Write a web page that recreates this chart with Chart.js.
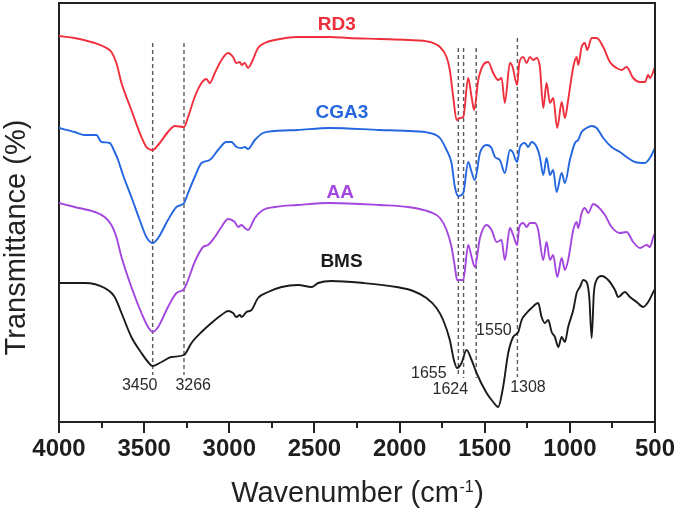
<!DOCTYPE html>
<html><head><meta charset="utf-8">
<script src="https://cdn.jsdelivr.net/npm/chart.js@4.4.0/dist/chart.umd.min.js"></script>
<style>html,body{margin:0;padding:0;background:#fff}#wrap{width:678px;height:511px}</style>
</head><body><div id="wrap"><canvas id="c" width="678" height="511"></canvas></div>
<script>
// ---- data (wavenumber in cm-1, transmittance in arbitrary offset units) ----
const xTicks = [4000,3500,3000,2500,2000,1500,1000,500];

const rd3Wn = [4000,3908,3790,3732,3692,3663,3633,3575,3516,3487,3450,3418,3360,3320,3266,3242,3203,3163,3134,3115,3085,3046,3007,2978,2958,2938,2928,2909,2890,2870,2831,2792,2733,2600,2410,2300,2116,1950,1822,1763,1724,1705,1685,1665,1646,1626,1597,1577,1562,1538,1509,1480,1450,1421,1401,1382,1352,1336,1310,1297,1274,1254,1235,1215,1195,1176,1156,1137,1117,1098,1074,1048,1029,1010,980,960,951,931,912,898,872,843,804,765,725,696,667,628,588,559,540,530,500];
const rd3T  = [386,384,379,375,370,359,339,312,285,275,272,277,290,296,295,305,325,339,343,339,349,362,369,365,359,360,357,359,354,359,374,379,382,385,385,384,383,382,380,375,365,352,325,302,304,305,344,325,312,342,357,360,349,342,344,319,359,355,337,359,365,359,365,362,364,355,314,339,319,324,294,320,304,322,355,365,357,375,379,372,384,384,375,360,354,352,355,344,340,340,347,344,355];

const cgaWn = [4000,3908,3849,3780,3751,3702,3673,3653,3624,3575,3526,3487,3450,3418,3360,3310,3266,3242,3203,3163,3115,3066,3017,2987,2958,2928,2909,2890,2850,2802,2733,2600,2410,2116,1950,1822,1763,1724,1695,1675,1656,1626,1597,1577,1558,1528,1489,1460,1440,1411,1382,1352,1336,1310,1293,1264,1245,1225,1195,1176,1156,1137,1117,1098,1078,1048,1029,1000,970,951,931,902,872,843,804,755,706,667,618,559,530,500];
const cgaT  = [294,290,287,287,280,279,270,262,247,225,202,185,179,184,202,215,219,229,245,259,262,272,280,280,275,274,275,273,282,289,291,292,294,292,291,289,284,272,259,235,226,229,260,250,242,269,277,274,265,262,249,272,270,260,275,279,275,280,275,265,247,264,247,252,230,249,239,262,279,282,290,294,296,294,284,275,270,265,260,259,264,274];

const aaWn = [4000,3908,3790,3732,3692,3663,3633,3575,3516,3477,3450,3418,3360,3310,3266,3242,3203,3154,3125,3085,3046,3007,2968,2948,2928,2909,2890,2850,2802,2733,2600,2410,2116,1950,1822,1763,1724,1695,1675,1662,1626,1597,1577,1558,1528,1489,1460,1430,1401,1382,1352,1333,1310,1297,1274,1254,1235,1205,1186,1156,1137,1117,1098,1074,1048,1029,1010,980,960,951,931,912,892,863,833,794,755,706,667,628,588,549,530,510,500];
const aaT  = [219,215,210,205,197,185,165,135,109,95,90,95,115,129,133,142,160,175,177,185,195,203,200,195,197,194,192,204,212,215,217,219,217,215,210,204,192,175,155,142,142,177,165,155,184,197,192,180,182,162,194,187,177,195,199,195,199,199,192,162,180,162,167,145,164,152,162,192,200,194,209,214,209,218,215,207,195,189,190,180,174,177,175,185,189];

const bmsWn = [4000,3849,3732,3673,3633,3575,3516,3477,3450,3398,3340,3266,3222,3163,3105,3046,3007,2978,2958,2938,2928,2899,2870,2831,2772,2693,2596,2517,2478,2400,2214,2018,1920,1842,1783,1744,1705,1681,1662,1636,1607,1577,1548,1489,1450,1421,1392,1362,1333,1303,1283,1254,1225,1186,1166,1147,1127,1107,1088,1068,1048,1029,1010,980,960,941,921,902,886,872,859,843,813,775,735,716,677,647,608,569,540,510,500];
const bmsT  = [139,139,134,125,109,85,69,60,56,60,65,67,79,90,99,107,111,109,105,107,105,110,112,124,130,135,137,135,139,141,139,135,131,124,114,102,82,62,54,59,72,62,49,29,20,15,35,69,85,90,102,109,114,119,105,99,102,90,85,75,85,80,95,112,129,135,142,140,125,84,129,142,146,142,132,125,130,125,120,115,120,130,133];

const markerWn     = [3450,3266,1655,1624,1550,1308];
const markerTop    = [379,379,374,374,374,384];
const markerBottom = [47,47,45,44,44,45];
const markerText   = ['3450','3266','1655','1624','1550','1308'];
const markerTextWn = [3526,3212,1828,1702,1446,1246];
const markerTextT  = [36,36,48,32,91,34];

const seriesNames = ['RD3','CGA3','AA','BMS'];
const seriesLabelWn = [2369,2339,2348,2341];
const seriesLabelT  = [397,309,229.5,160.5];

// ---- build ----
const FONT = "'Liberation Sans', Arial, Helvetica, sans-serif";
const COLORS = ['#ef2f3c','#2466e0','#a346df','#1b1b1b'];
const toPts = (wn, t) => wn.map((w, i) => ({x: w, y: t[i]}));

const curveSets = [
  toPts(rd3Wn, rd3T), toPts(cgaWn, cgaT), toPts(aaWn, aaT), toPts(bmsWn, bmsT)
].map((d, i) => ({
  label: seriesNames[i], data: d, borderColor: COLORS[i], borderWidth: 1.9,
  pointRadius: 0, fill: false, cubicInterpolationMode: 'monotone'
}));
const markerSets = markerWn.map((w, i) => ({
  label: 'm' + w, data: [{x: w, y: markerTop[i]}, {x: w, y: markerBottom[i]}],
  borderColor: '#5a5a5a', borderWidth: 1.4, borderDash: [4, 3], pointRadius: 0, fill: false
}));

const decor = {
  id: 'decor',
  afterDraw(chart) {
    const {ctx, chartArea: ca, scales: {x, y}} = chart;
    ctx.save();
    // top and right frame
    ctx.strokeStyle = '#222'; ctx.lineWidth = 2;
    ctx.beginPath();
    ctx.moveTo(ca.left - 1, ca.top); ctx.lineTo(ca.right, ca.top); ctx.lineTo(ca.right, ca.bottom + 1);
    ctx.stroke();
    // minor ticks
    ctx.lineWidth = 2;
    for (let v = 750; v < 4000; v += 500) {
      const px = Math.round(x.getPixelForValue(v));
      ctx.beginPath(); ctx.moveTo(px, ca.bottom); ctx.lineTo(px, ca.bottom + 6); ctx.stroke();
    }
    // marker labels
    ctx.fillStyle = '#2a2a2a'; ctx.font = `16px ${FONT}`;
    ctx.textAlign = 'center'; ctx.textBaseline = 'middle';
    markerText.forEach((t, i) => ctx.fillText(t, x.getPixelForValue(markerTextWn[i]), y.getPixelForValue(markerTextT[i])));
    // series labels
    ctx.font = `bold 19px ${FONT}`;
    seriesNames.forEach((t, i) => {
      ctx.fillStyle = COLORS[i];
      ctx.fillText(t, x.getPixelForValue(seriesLabelWn[i]), y.getPixelForValue(seriesLabelT[i]));
    });
    // y title
    ctx.fillStyle = '#222';
    ctx.save();
    ctx.font = `29px ${FONT}`;
    ctx.translate(25, 237.5); ctx.rotate(-Math.PI / 2);
    ctx.textAlign = 'center'; ctx.textBaseline = 'alphabetic';
    ctx.fillText('Transmittance (%)', 0, 0);
    ctx.restore();
    // x title with superscript
    const main = 'Wavenumber (cm', sup = '-1', tail = ')';
    ctx.textAlign = 'left'; ctx.textBaseline = 'alphabetic';
    ctx.font = `29px ${FONT}`;
    const w1 = ctx.measureText(main).width, w3 = ctx.measureText(tail).width;
    ctx.font = `16px ${FONT}`;
    const w2 = ctx.measureText(sup).width;
    const sx = (ca.left + ca.right) / 2 - (w1 + w2 + w3) / 2;
    ctx.font = `29px ${FONT}`;
    ctx.fillText(main, sx, 502);
    ctx.fillText(tail, sx + w1 + w2 + 1, 502);
    ctx.font = `16px ${FONT}`;
    ctx.fillText(sup, sx + w1 + 0.5, 492);
    ctx.restore();
  }
};

new Chart(document.getElementById('c'), {
  type: 'line',
  data: { datasets: [...curveSets, ...markerSets] },
  options: {
    responsive: false, animation: false,
    layout: { padding: { left: 0, right: 23, top: 3, bottom: 0 } },
    plugins: { legend: { display: false }, tooltip: { enabled: false } },
    scales: {
      x: {
        type: 'linear', reverse: true, min: 500, max: 4000,
        afterFit: s => { s.height = 89; },
        afterBuildTicks: s => { s.ticks = xTicks.map(v => ({value: v})); },
        ticks: { autoSkip: false, maxRotation: 0, padding: 2, color: '#1e1e1e',
                 callback: v => String(v),
                 font: { family: FONT, size: 24, weight: 'bold' } },
        grid: { display: true, drawOnChartArea: false, drawTicks: true, tickLength: 11,
                tickWidth: 2, tickColor: '#222', lineWidth: 2, color: '#222' },
        border: { display: true, color: '#222', width: 2 }
      },
      y: {
        type: 'linear', min: 0, max: 419,
        afterFit: s => { s.width = 59; },
        ticks: { display: false },
        grid: { display: true, drawOnChartArea: false, drawTicks: false, lineWidth: 2, color: '#222' },
        border: { display: true, color: '#222', width: 2 }
      }
    }
  },
  plugins: [decor]
});
</script></body></html>
